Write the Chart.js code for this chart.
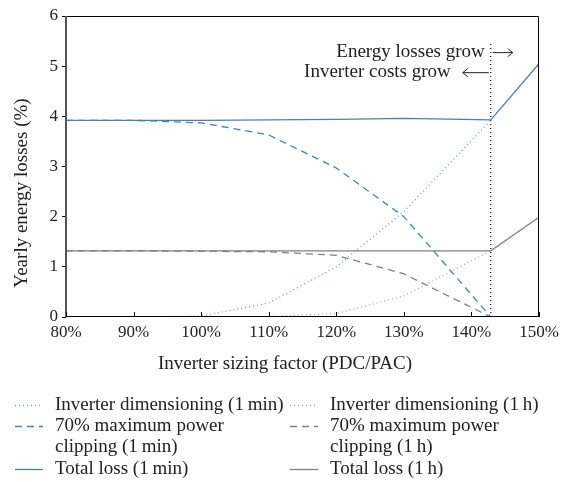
<!DOCTYPE html>
<html>
<head>
<meta charset="utf-8">
<script src="https://cdn.jsdelivr.net/npm/chart.js@4/dist/chart.umd.min.js"></script>
<style>
  html, body { margin: 0; padding: 0; background: #fff; }
  #wrap { width: 569px; height: 482px; position: relative; }
</style>
</head>
<body>
<div id="wrap"><canvas id="lossChart" width="569" height="482"></canvas></div>
<script>
// Facteur de dimensionnement (%) - 142.86 = 1/0.7
const sizing = [80, 90, 100, 110, 120, 130, 142.86, 150];

// Séries 1 min
const dimMin = [0, 0, 0.02, 0.28, 1.0, 2.1, 3.92, null];
const clipMin = [3.92, 3.92, 3.87, 3.63, 2.97, 2.0, 0, 0];
const totalMin = [3.92, 3.92, 3.92, 3.93, 3.94, 3.96, 3.93, 5.05];

// Séries 1 h
const dimHour = [0, 0, 0, 0.01, 0.07, 0.42, 1.32, null];
const clipHour = [1.32, 1.32, 1.31, 1.30, 1.23, 0.86, 0, 0];
const totalHour = [1.32, 1.32, 1.32, 1.32, 1.32, 1.32, 1.32, 1.99];

const limit = 142.86;
const xTicks = [80, 90, 100, 110, 120, 130, 140, 150];
const yTicks = [0, 1, 2, 3, 4, 5, 6];

const blue = '#4a7ebb';
const blueLight = '#6f98cf';
const grey = '#808080';
const greyLight = '#a8a8a8';
const serif = '"Liberation Serif", "DejaVu Serif", serif';

const pts = arr => sizing.map((x, i) => ({ x: x, y: arr[i] }));

const series = [
    { label: ['Inverter dimensioning (1\u202Fmin)'], data: dimMin, color: blueLight, dash: [1, 3], width: 1.3, col: 0, row: 0 },
    { label: ['70% maximum power', 'clipping (1\u202Fmin)'], data: clipMin, color: blue, dash: [7, 5], width: 1.3, col: 0, row: 1 },
    { label: ['Total loss (1\u202Fmin)'], data: totalMin, color: blue, dash: [], width: 1.3, col: 0, row: 3 },
    { label: ['Inverter dimensioning (1\u202Fh)'], data: dimHour, color: greyLight, dash: [1, 3], width: 1.3, col: 1, row: 0 },
    { label: ['70% maximum power', 'clipping (1\u202Fh)'], data: clipHour, color: grey, dash: [7, 5], width: 1.3, col: 1, row: 1 },
    { label: ['Total loss (1\u202Fh)'], data: totalHour, color: grey, dash: [], width: 1.3, col: 1, row: 3 }
];

const datasets = series.map(s => ({
    label: s.label.join(' '),
    data: pts(s.data),
    borderColor: s.color,
    borderDash: s.dash,
    borderWidth: s.width,
    pointRadius: 0,
    fill: false,
    tension: 0,
    spanGaps: false
}));

// Ligne verticale pointillée au facteur limite
datasets.push({
    label: 'limit',
    data: [{ x: limit, y: 0 }, { x: limit, y: 5.5 }],
    borderColor: '#000',
    borderDash: [1, 3],
    borderWidth: 1.2,
    pointRadius: 0
});

// Cadre, graduations, titres, annotations et légende dessinés à la main
const decor = {
    id: 'decor',
    afterDraw(chart) {
        const c = chart.ctx;
        const a = chart.chartArea;
        const xs = chart.scales.x;
        const ys = chart.scales.y;
        c.save();

        // cadre
        c.strokeStyle = '#000';
        c.lineWidth = 1;
        c.beginPath();
        c.moveTo(a.left, a.top + 0.5);
        c.lineTo(a.right - 0.5, a.top + 0.5);
        c.lineTo(a.right - 0.5, a.bottom - 0.5);
        c.lineTo(a.left, a.bottom - 0.5);
        c.stroke();
        c.strokeStyle = '#555';
        c.lineWidth = 2;
        c.beginPath();
        c.moveTo(a.left, a.top);
        c.lineTo(a.left, a.bottom);
        c.stroke();

        // graduations x vers l'intérieur
        c.strokeStyle = '#000';
        c.lineWidth = 1;
        xs.ticks.forEach(t => {
            const px = Math.round(xs.getPixelForValue(t.value)) + 0.5;
            c.beginPath();
            c.moveTo(px, a.bottom);
            c.lineTo(px, a.bottom - 5);
            c.stroke();
        });

        // titres des axes (centrés sur la figure)
        c.fillStyle = '#222';
        c.font = '19px ' + serif;
        c.textAlign = 'center';
        c.textBaseline = 'middle';
        c.fillText('Inverter sizing factor (PDC/PAC)', 285, 364);
        c.translate(22, 193);
        c.rotate(-Math.PI / 2);
        c.fillText('Yearly energy losses (%)', 0, 0);
        c.setTransform(1, 0, 0, 1, 0, 0);

        // annotations
        const lx = xs.getPixelForValue(limit);
        const y1 = ys.getPixelForValue(5.28);
        const y2 = ys.getPixelForValue(4.88);
        c.font = '19px ' + serif;
        c.textAlign = 'right';
        c.fillText('Energy losses grow', lx - 6, y1);
        c.fillText('Inverter costs grow', lx - 40, y2);
        const arrow = (x0, x1, y) => {
            const d = x1 > x0 ? 1 : -1;
            c.beginPath();
            c.moveTo(x0, y);
            c.lineTo(x1, y);
            c.moveTo(x1 - d * 5, y - 4);
            c.lineTo(x1, y);
            c.lineTo(x1 - d * 5, y + 4);
            c.stroke();
        };
        c.strokeStyle = '#222';
        c.lineWidth = 1;
        arrow(lx + 2, lx + 22, y1 + 0.5);
        arrow(lx - 2, lx - 28, y2 + 0.5);

        // légende
        const colX = [15, 290];
        const rowY = [405, 426, 447, 469];
        c.textAlign = 'left';
        c.font = '19px ' + serif;
        series.forEach(s => {
            const x0 = colX[s.col];
            const y = rowY[s.row];
            c.strokeStyle = s.color;
            c.lineWidth = s.width;
            c.setLineDash(s.dash);
            c.beginPath();
            c.moveTo(x0, y + 0.5);
            c.lineTo(x0 + 28, y + 0.5);
            c.stroke();
            c.setLineDash([]);
            c.fillStyle = '#222';
            s.label.forEach((line, i) => c.fillText(line, x0 + 40, y + i * 21));
        });
        c.restore();
    }
};

const chart = new Chart(document.getElementById('lossChart').getContext('2d'), {
    type: 'line',
    data: { datasets: datasets },
    options: {
        responsive: false,
        animation: false,
        layout: { padding: { left: 0, right: 30, top: 16, bottom: 107 } },
        plugins: {
            legend: { display: false },
            tooltip: { enabled: false }
        },
        scales: {
            x: {
                type: 'linear',
                min: 80,
                max: 150,
                afterBuildTicks: s => { s.ticks = xTicks.map(v => ({ value: v })); },
                ticks: {
                    callback: v => v + '%',
                    color: '#222',
                    font: { family: serif, size: 17 },
                    padding: 5,
                    maxRotation: 0
                },
                grid: { display: false, drawTicks: false },
                border: { display: false },
                afterFit: s => { s.height = 58; }
            },
            y: {
                min: 0,
                max: 6,
                afterBuildTicks: s => { s.ticks = yTicks.map(v => ({ value: v })); },
                ticks: {
                    color: '#222',
                    font: { family: serif, size: 17 },
                    padding: 4
                },
                grid: { drawOnChartArea: false, drawTicks: true, tickLength: 4, color: '#000' },
                border: { display: false },
                afterFit: s => { s.width = 66; }
            }
        }
    },
    plugins: [decor]
});
</script>
</body>
</html>
